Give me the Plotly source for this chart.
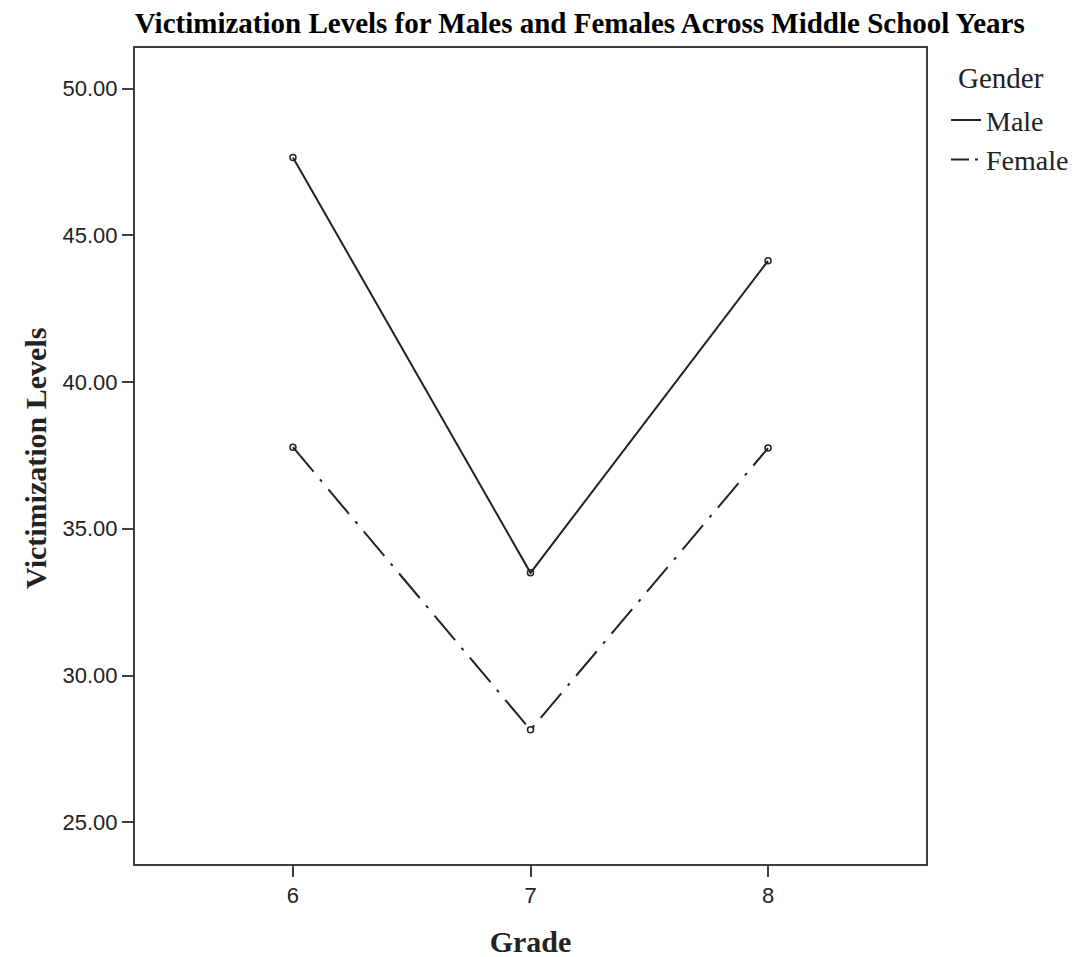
import plotly.graph_objects as go

grades = [6, 7, 8]
male = [47.65, 33.50, 44.13]
female = [37.78, 28.15, 37.75]
y_ticks = [25, 30, 35, 40, 45, 50]
y_tick_labels = ["25.00", "30.00", "35.00", "40.00", "45.00", "50.00"]

serif = "Liberation Serif, Times New Roman, serif"
sans = "Liberation Sans, Arial, sans-serif"
ink = "#222222"
female_dash = "32px,10px,3px,10px"

fig = go.Figure()
fig.add_trace(go.Scatter(
    x=grades, y=male, name="Male", mode="lines+markers", showlegend=False,
    line=dict(color=ink, width=2),
    marker=dict(symbol="circle-open", size=6, color=ink, line=dict(width=1.5)),
))
fig.add_trace(go.Scatter(
    x=grades, y=female, name="Female", mode="lines+markers", showlegend=False,
    line=dict(color=ink, width=2, dash=female_dash),
    marker=dict(symbol="circle-open", size=6, color=ink, line=dict(width=1.5)),
))
# legend entries (lines only, as in the reference)
fig.add_trace(go.Scatter(x=[None], y=[None], name="Male", mode="lines",
                         line=dict(color=ink, width=2)))
fig.add_trace(go.Scatter(x=[None], y=[None], name="Female", mode="lines",
                         line=dict(color=ink, width=2, dash="18px,6px,3px,6px")))

fig.update_layout(
    width=1087, height=957,
    margin=dict(l=127, r=169, t=40, b=93),
    paper_bgcolor="white", plot_bgcolor="white",
    title=dict(text="<b>Victimization Levels for Males and Females Across Middle School Years</b>",
               font=dict(family=serif, size=29, color="black"),
               x=0.526, xanchor="center", y=0.995, yanchor="top"),
    showlegend=True,
    legend=dict(font=dict(family=serif, size=28, color=ink),
                x=1.0253, xanchor="left", y=0.942, yanchor="top",
                bgcolor="rgba(0,0,0,0)", tracegroupgap=0, itemwidth=30),
    annotations=[
        dict(text="Gender", xref="paper", yref="paper", x=1.038, y=0.9636,
             xanchor="left", yanchor="middle", showarrow=False,
             font=dict(family=serif, size=29, color=ink)),
        dict(text="<b>Victimization Levels</b>", xref="paper", yref="paper",
             x=-0.1252, y=0.4976, xanchor="center", yanchor="middle",
             textangle=-90, showarrow=False,
             font=dict(family=serif, size=30, color=ink)),
    ],
    xaxis=dict(range=[5.335, 8.665], tickvals=grades, ticktext=[str(g) for g in grades],
               showgrid=False, zeroline=False, showline=True, mirror=True,
               linecolor="#404040", linewidth=2, ticks="outside", ticklen=11,
               tickwidth=2, tickcolor="#404040",
               tickfont=dict(family=sans, size=22, color=ink),
               title=dict(text="<b>Grade</b>", font=dict(family=serif, size=30, color=ink), standoff=24)),
    yaxis=dict(range=[23.58, 51.38], tickvals=y_ticks, ticktext=y_tick_labels,
               showgrid=False, zeroline=False, showline=True, mirror=True,
               linecolor="#404040", linewidth=2, ticks="outside", ticklen=11,
               tickwidth=2, tickcolor="#404040",
               tickfont=dict(family=sans, size=22, color=ink)),
)

fig.write_html("out.html")
